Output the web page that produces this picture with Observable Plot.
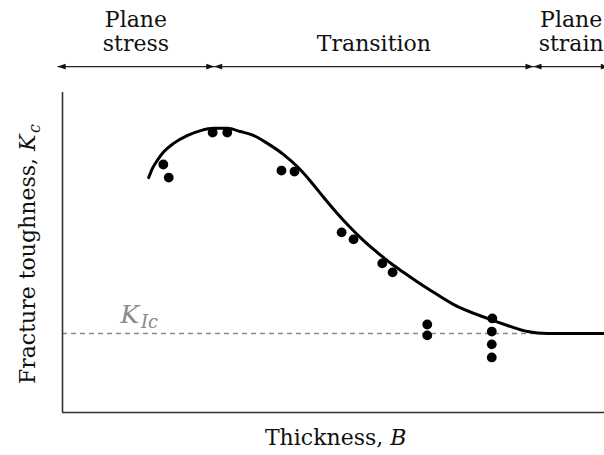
<!DOCTYPE html>
<html>
<head>
<meta charset="utf-8">
<script src="https://cdn.jsdelivr.net/npm/d3@7"></script>
<script src="https://cdn.jsdelivr.net/npm/@observablehq/plot@0.6"></script>
<style>
  body { margin: 0; background: #fff; }
  svg text { font-family: "DejaVu Serif", "Liberation Serif", serif; }
</style>
</head>
<body>
<div id="chart"></div>
<script>
// Fitted toughness curve K_c against specimen thickness B (arbitrary units)
const curveB = [1.59, 1.66, 1.75, 1.86, 2.05, 2.31, 2.55, 2.79, 3.04, 3.28, 3.52, 3.78, 4.08, 4.34, 4.58,
                4.82, 5.07, 5.31, 5.55, 5.81, 6.05, 6.29, 6.55, 6.75, 7.21, 7.84, 8.21, 8.58, 8.95, 10.0];
const curveK = [7.34, 7.63, 7.88, 8.13, 8.41, 8.66, 8.81, 8.88, 8.88, 8.78, 8.66, 8.41, 8.06, 7.67, 7.22,
                6.72, 6.22, 5.78, 5.38, 5.00, 4.67, 4.38, 4.08, 3.86, 3.38, 2.94, 2.72, 2.53, 2.47, 2.47];

// Individual test results
const testB = [1.86, 1.96, 2.77, 3.04, 4.04, 4.28, 5.15, 5.37, 5.90, 6.09, 6.73, 6.73, 7.93, 7.92, 7.92, 7.92];
const testK = [7.75, 7.34, 8.75, 8.75, 7.56, 7.53, 5.63, 5.41, 4.66, 4.38, 2.75, 2.41, 2.94, 2.53, 2.13, 1.72];

// Plane-strain fracture toughness
const kIc = 2.47;

// Thickness regimes shown above the plot
const regimeNames = ["Plane\nstress", "Transition", "Plane\nstrain"];
const regimeStart = [-0.09, 2.80, 8.69];
const regimeEnd = [2.80, 8.69, 10.08];

// Labels; $...$ is set in math italics, with _ for a subscript
const xLabel = "Thickness, $B$";
const yLabel = "Fracture toughness, $K_c$";
const kIcLabel = "$K_{Ic}$";

const curve = curveB.map((b, i) => ({b, k: curveK[i]}));
const tests = testB.map((b, i) => ({b, k: testK[i]}));
const regimes = regimeNames.map((name, i) => ({name, start: regimeStart[i], end: regimeEnd[i]}));
const heads = regimes.flatMap(r => [{x: r.start, dir: 180}, {x: r.end, dir: 0}]);

// Slim filled arrowhead, tip at the origin, pointing right
const arrowHead = {
  draw(context, size) {
    const r = Math.sqrt(size / Math.PI);
    context.moveTo(0, 0);
    context.lineTo(-2 * r, -0.7 * r);
    context.lineTo(-2 * r, 0.7 * r);
    context.closePath();
  }
};

const arrowY = 10.81;
const font = 22;
const serif = "DejaVu Serif";

const chart = Plot.plot({
  width: 604,
  height: 455,
  marginLeft: 62,
  marginRight: 0,
  marginTop: 92,
  marginBottom: 43,
  style: {background: "white"},
  x: {domain: [0, 10], axis: null},
  y: {domain: [0, 10], axis: null},
  marks: [
    // K_Ic reference level
    Plot.ruleY([kIc], {stroke: "#8a8a8a", strokeWidth: 1.6, strokeDasharray: "5,4"}),
    Plot.text([kIcLabel], {x: () => 1.07, y: () => 2.81, text: d => d, textAnchor: "start",
      lineAnchor: "bottom", fontSize: 25, fontFamily: serif, fill: "#8a8a8a"}),
    // axes
    Plot.ruleX([0], {stroke: "#333", strokeWidth: 1.6}),
    Plot.ruleY([0], {stroke: "#333", strokeWidth: 1.6}),
    // fitted curve and test points
    Plot.line(curve, {x: "b", y: "k", curve: "monotone-x", stroke: "black", strokeWidth: 3}),
    Plot.dot(tests, {x: "b", y: "k", r: 4.9, fill: "black"}),
    // regime arrows and labels
    Plot.link(regimes, {x1: "start", x2: "end", y1: () => arrowY, y2: () => arrowY,
      stroke: "#222", strokeWidth: 1.3}),
    Plot.dot(heads, {x: "x", y: () => arrowY, rotate: "dir", symbol: arrowHead, r: 4, fill: "#111"}),
    Plot.text(regimes, {x: d => (d.start + d.end) / 2, y: () => 11.31, text: "name",
      lineAnchor: "bottom", lineHeight: 1.05, fontSize: font, fontFamily: serif, fill: "#111"}),
    // axis titles
    Plot.text([xLabel], {x: () => 5.04, y: () => -1.03, text: d => d, lineAnchor: "bottom",
      fontSize: font, fontFamily: serif, fill: "#111"}),
    Plot.text([yLabel], {x: () => -0.63, y: () => 4.95, text: d => d, rotate: -90,
      fontSize: font, fontFamily: serif, fill: "#111"})
  ]
});

// Turn $...$ spans into italic / subscript tspans
function typeset(svg) {
  d3.select(svg).selectAll("text").each(function () {
    const s = this.textContent;
    if (!s.includes("$")) return;
    const el = d3.select(this);
    el.text(null);
    s.split("$").forEach((part, i) => {
      if (!part) return;
      if (i % 2 === 0) { el.append("tspan").text(part); return; }
      const m = part.match(/^([A-Za-z]+)(?:_\{?([A-Za-z]+)\}?)?$/);
      el.append("tspan").attr("font-style", "italic").text(m[1]);
      if (m[2]) {
        el.append("tspan").attr("font-style", "italic").attr("font-size", "0.72em")
          .attr("dy", "0.3em").attr("dx", "0.1em").text(m[2]);
      }
    });
  });
}
typeset(chart);

document.getElementById("chart").appendChild(chart);
</script>
</body>
</html>
